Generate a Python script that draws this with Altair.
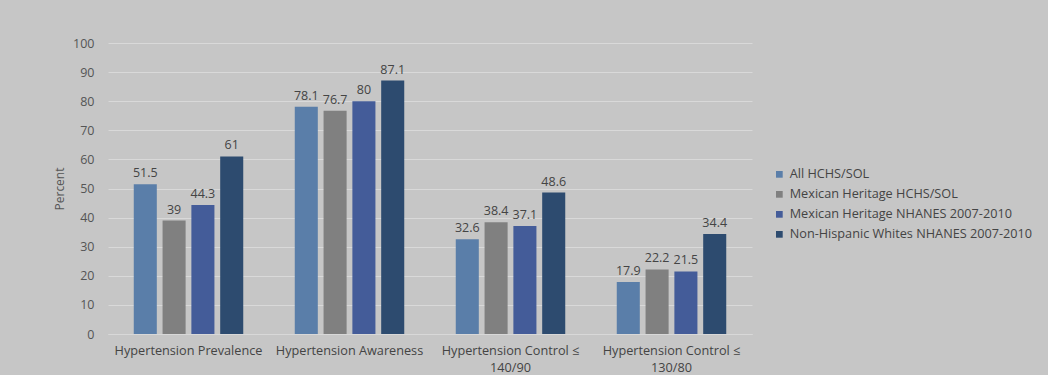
import altair as alt
import pandas as pd

categories = ["Hypertension Prevalence", "Hypertension Awareness",
              "Hypertension Control ≤|140/90", "Hypertension Control ≤|130/80"]
series = ["All HCHS/SOL", "Mexican Heritage HCHS/SOL",
          "Mexican Heritage NHANES 2007-2010", "Non-Hispanic Whites NHANES 2007-2010"]
all_hchs = [51.5, 78.1, 32.6, 17.9]
mex_hchs = [39, 76.7, 38.4, 22.2]
mex_nhanes = [44.3, 80, 37.1, 21.5]
nhw_nhanes = [61, 87.1, 48.6, 34.4]
y_ticks = [0, 10, 20, 30, 40, 50, 60, 70, 80, 90, 100]
colors = ["#5a7ea9", "#808080", "#445c99", "#2d4b6f"]

rows = []
for vals, s in zip([all_hchs, mex_hchs, mex_nhanes, nhw_nhanes], series):
    for c, v in zip(categories, vals):
        rows.append({"category": c, "series": s, "value": v})
df = pd.DataFrame(rows)

font = "Open Sans"

x = alt.X("category:N", sort=categories, title=None,
          scale=alt.Scale(paddingInner=0.32, paddingOuter=0.16),
          axis=alt.Axis(labelExpr="split(datum.label, '|')", labelAngle=0,
                        labelFontSize=12.7, labelColor="#444444", labelFont=font,
                        ticks=False, domainColor="#d8d8d8", labelPadding=10,
                        labelLineHeight=17))
xoff = alt.XOffset("series:N", sort=series,
                   scale=alt.Scale(paddingInner=0.2, paddingOuter=0))
y = alt.Y("value:Q", title="Percent",
          scale=alt.Scale(domain=[0, 100], nice=False),
          axis=alt.Axis(values=y_ticks, labelOverlap=False,
                        labelFontSize=12.5, labelColor="#555555", labelFont=font,
                        ticks=False, domain=False, gridColor="#d9d9d9",
                        labelPadding=14, titleFontSize=12, titleFont=font,
                        titleFontWeight="normal", titleColor="#555555",
                        titlePadding=6))

base = alt.Chart(df).encode(x=x, xOffset=xoff, y=y)

bars = base.mark_bar().encode(
    color=alt.Color("series:N", sort=series,
                    scale=alt.Scale(domain=series, range=colors),
                    legend=alt.Legend(title=None, orient="none", legendX=665, legendY=125,
                                      symbolType="square", symbolSize=45,
                                      symbolStrokeWidth=0, labelOffset=4,
                                      labelFontSize=12.7, labelFont=font,
                                      labelColor="#444444", rowPadding=6,
                                      labelLimit=400)),
)

labels = base.mark_text(baseline="bottom", dy=-4, fontSize=12.5,
                        font=font, color="#444444").encode(
    text=alt.Text("value:Q"),
)

chart = alt.layer(bars, labels).properties(
    width=644, height=291,
    autosize=alt.AutoSizeParams(type="none"),
    padding={"left": 108, "top": 43, "right": 296, "bottom": 41},
    background="#c6c6c6",
).configure_view(stroke=None)

chart.save("out.html", embed_options={"renderer": "svg", "actions": False})
